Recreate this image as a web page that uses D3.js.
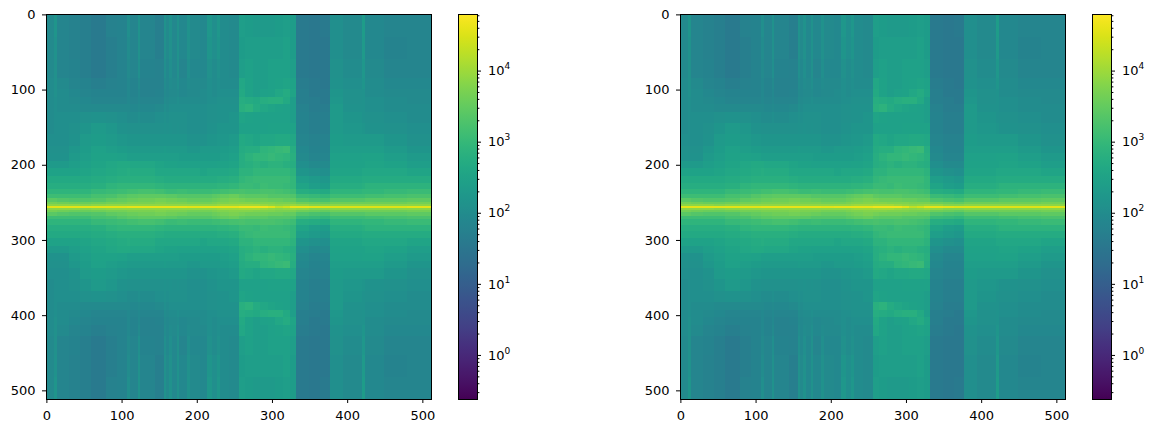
<!DOCTYPE html>
<html>
<head>
<meta charset="utf-8">
<script src="https://cdn.jsdelivr.net/npm/d3@7"></script>
<style>
  html, body { margin: 0; padding: 0; background: #fff; }
  svg text { font-family: "DejaVu Sans", sans-serif; font-size: 13px; fill: #000; }
</style>
</head>
<body>
<div id="chart"></div>
<script>
"use strict";

// image columns and rows where each band of the table starts
const colStarts = [0, 8, 10, 14, 30, 45, 60, 80, 95, 108, 112, 122, 125, 145, 157, 160, 163, 167, 174, 177, 187, 191, 205, 214, 221, 228, 231, 243, 256, 265, 275, 285, 295, 305, 315, 325, 333, 350, 365, 378, 395, 420, 424, 450, 480, 512];
const rowStarts = [0, 30, 60, 85, 100, 110, 120, 130, 145, 160, 175, 185, 195, 205, 215, 225, 233, 240, 245, 250, 253, 255, 258];

// log10 of the magnitude, upper half of the spectrum
const r000 = [1.95,1.95,2.2,1.85, 1.75,1.7,1.6,1.75,1.8, 2.05,1.85,2.15,1.85,1.7, 2.15,1.95,2.15,1.9,2.15,1.9,2.15,1.95, 1.9,2.25,2.05,2.25,2.0,1.95, 2.4,2.35,2.3,2.3,2.3,2.35,2.4,2.35, 1.6,1.55,1.6, 2.05,1.95,2.35,1.9,1.85,1.85];
const r030 = [1.95,1.95,2.15,1.85, 1.75,1.7,1.6,1.7,1.8, 2.0,1.85,2.1,1.85,1.7, 2.1,1.95,2.1,1.9,2.15,1.9,2.1,1.95, 1.9,2.2,2.05,2.2,2.0,1.95, 2.35,2.4,2.4,2.4,2.4,2.4,2.45,2.35, 1.6,1.55,1.55, 2.05,1.95,2.3,1.9,1.8,1.85];
const r060 = [1.95,1.95,2.1,1.85, 1.8,1.7,1.6,1.7,1.8, 1.95,1.85,2.05,1.8,1.75, 2.05,1.9,2.05,1.9,2.1,1.85,2.05,1.9, 1.9,2.1,2.0,2.1,2.0,1.95, 2.4,2.45,2.4,2.4,2.45,2.45,2.45,2.4, 1.6,1.55,1.55, 2.1,2.0,2.25,1.95,1.85,1.85];
const r085 = [2.0,2.0,2.1,1.95, 1.85,1.8,1.7,1.75,1.8, 1.9,1.8,1.95,1.75,1.75, 2.0,1.9,2.0,1.95,2.05,1.9,2.0,1.95, 1.95,2.05,2.0,2.05,2.0,2.0, 2.6,2.5,2.4,2.4,2.45,2.5,2.55,2.5, 1.65,1.6,1.55, 2.15,2.05,2.2,2.0,1.9,1.9];
const r100 = [2.0,2.0,2.1,2.0, 1.9,1.85,1.8,1.8,1.8, 1.9,1.8,1.9,1.75,1.8, 1.95,1.9,1.95,1.95,2.0,1.9,1.95,1.95, 2.0,2.05,2.0,2.05,2.05,2.05, 2.65,2.5,2.4,2.45,2.5,2.6,2.7,2.55, 1.7,1.6,1.6, 2.2,2.1,2.15,2.0,1.95,1.95];
const r110 = [2.0,2.0,2.05,2.0, 1.95,1.9,1.85,1.85,1.85, 1.9,1.85,1.9,1.85,1.85, 2.0,1.95,2.0,2.0,2.05,2.0,2.0,2.0, 2.0,2.05,2.05,2.1,2.1,2.1, 2.75,2.7,2.65,2.75,2.8,2.8,2.65,2.4, 1.7,1.65,1.6, 2.25,2.1,2.15,2.05,2.0,1.95];
const r120 = [2.0,2.0,2.05,2.0, 2.0,1.95,1.95,1.95,1.95, 1.95,1.9,1.95,1.9,1.95, 2.05,2.0,2.05,2.05,2.05,2.05,2.05,2.05, 2.05,2.1,2.1,2.15,2.15,2.15, 2.8,2.85,2.7,2.6,2.55,2.5,2.45,2.4, 1.75,1.65,1.65, 2.3,2.15,2.15,2.05,2.0,2.0];
const r130 = [2.0,2.0,2.05,2.05, 2.05,2.1,2.15,2.1,2.05, 2.0,2.0,2.05,2.0,2.05, 2.1,2.05,2.1,2.1,2.1,2.1,2.05,2.05, 2.05,2.1,2.1,2.15,2.15,2.2, 2.55,2.5,2.45,2.45,2.45,2.45,2.45,2.4, 1.8,1.7,1.7, 2.3,2.2,2.15,2.1,2.05,2.0];
const r145 = [2.0,2.0,2.05,2.05, 2.1,2.2,2.3,2.25,2.15, 2.1,2.1,2.1,2.1,2.1, 2.15,2.1,2.15,2.1,2.15,2.1,2.05,2.05, 2.05,2.15,2.15,2.2,2.2,2.2, 2.45,2.45,2.45,2.45,2.5,2.5,2.5,2.5, 1.8,1.7,1.7, 2.3,2.25,2.2,2.15,2.1,2.05];
const r160 = [2.05,2.05,2.05,2.05, 2.15,2.3,2.35,2.3,2.25, 2.2,2.2,2.2,2.2,2.2, 2.2,2.2,2.2,2.2,2.2,2.2,2.15,2.15, 2.15,2.2,2.2,2.25,2.25,2.3, 2.65,2.6,2.55,2.6,2.6,2.65,2.65,2.6, 1.85,1.75,1.75, 2.35,2.3,2.3,2.3,2.2,2.1];
const r175 = [2.1,2.1,2.1,2.1, 2.25,2.35,2.45,2.4,2.35, 2.3,2.3,2.3,2.3,2.3, 2.35,2.3,2.3,2.3,2.3,2.3,2.25,2.25, 2.3,2.3,2.3,2.3,2.35,2.4, 2.7,2.75,2.75,2.9,2.95,3.0,3.05,2.75, 1.9,1.8,1.8, 2.4,2.4,2.4,2.4,2.3,2.2];
const r185 = [2.15,2.15,2.15,2.15, 2.3,2.4,2.5,2.5,2.45, 2.4,2.4,2.4,2.4,2.4, 2.4,2.4,2.4,2.4,2.4,2.35,2.35,2.35, 2.35,2.35,2.35,2.35,2.4,2.45, 2.75,2.85,2.95,2.95,3.0,2.95,2.9,2.8, 1.95,1.85,1.85, 2.45,2.45,2.5,2.5,2.4,2.3];
const r195 = [2.3,2.3,2.3,2.3, 2.4,2.45,2.55,2.6,2.65, 2.65,2.6,2.6,2.6,2.55, 2.5,2.5,2.5,2.5,2.45,2.45,2.45,2.45, 2.45,2.45,2.45,2.5,2.5,2.55, 2.75,2.8,2.85,2.8,2.85,2.85,2.8,2.75, 2.05,1.95,1.95, 2.5,2.5,2.5,2.55,2.5,2.4];
const r205 = [2.5,2.5,2.5,2.5, 2.5,2.55,2.6,2.65,2.7, 2.75,2.7,2.7,2.7,2.6, 2.6,2.6,2.6,2.6,2.6,2.6,2.6,2.6, 2.55,2.6,2.6,2.6,2.6,2.65, 2.85,2.85,2.95,2.95,2.95,2.95,2.95,2.85, 2.2,2.1,2.05, 2.55,2.55,2.6,2.6,2.6,2.55];
const r215 = [2.65,2.65,2.65,2.65, 2.65,2.65,2.7,2.75,2.8, 2.8,2.8,2.8,2.8,2.75, 2.7,2.7,2.7,2.7,2.7,2.7,2.7,2.7, 2.7,2.7,2.7,2.75,2.75,2.8, 2.95,3.0,3.05,3.05,3.05,3.05,3.05,2.95, 2.4,2.3,2.25, 2.65,2.65,2.7,2.7,2.7,2.7];
const r225 = [2.75,2.75,2.75,2.75, 2.75,2.75,2.8,2.9,2.95, 2.95,2.95,2.95,2.95,2.9, 2.85,2.85,2.85,2.85,2.85,2.85,2.85,2.85, 2.85,2.85,2.85,2.9,2.9,2.95, 3.05,3.05,3.0,3.1,3.05,3.05,3.0,2.95, 2.55,2.4,2.35, 2.75,2.75,2.8,2.85,2.85,2.85];
const r233 = [2.9,2.9,2.9,2.9, 2.9,2.9,3.0,3.05,3.1, 3.15,3.15,3.2,3.2,3.15, 3.1,3.05,3.05,3.05,3.1,3.1,3.05,3.05, 3.05,3.05,3.1,3.1,3.15,3.2, 3.25,3.2,3.2,3.25,3.25,3.2,3.15,3.1, 2.75,2.7,2.65, 2.9,2.9,2.95,2.95,3.0,3.05];
const r240 = [3.1,3.1,3.1,3.1, 3.1,3.1,3.2,3.25,3.35, 3.4,3.4,3.45,3.45,3.45, 3.45,3.4,3.4,3.4,3.35,3.35,3.35,3.35, 3.35,3.35,3.4,3.45,3.5,3.55, 3.45,3.4,3.4,3.4,3.35,3.35,3.35,3.3, 3.05,3.0,2.95, 3.1,3.1,3.1,3.15,3.2,3.25];
const r245 = [3.4,3.4,3.4,3.35, 3.3,3.3,3.35,3.45,3.5, 3.55,3.55,3.6,3.6,3.65, 3.65,3.6,3.6,3.6,3.55,3.55,3.5,3.5, 3.5,3.5,3.55,3.6,3.65,3.7, 3.65,3.6,3.6,3.6,3.55,3.55,3.5,3.5, 3.3,3.25,3.2, 3.35,3.35,3.35,3.4,3.4,3.45];
const r250 = [3.65,3.65,3.65,3.6, 3.55,3.55,3.6,3.65,3.65, 3.7,3.7,3.7,3.7,3.75, 3.75,3.7,3.7,3.7,3.7,3.7,3.65,3.65, 3.65,3.65,3.7,3.75,3.75,3.8, 3.8,3.8,3.75,3.75,3.75,3.7,3.7,3.7, 3.6,3.55,3.5, 3.6,3.6,3.6,3.6,3.6,3.65];
const r253 = [3.85,3.85,3.85,3.85, 3.85,3.8,3.85,3.9,3.9, 3.9,3.9,3.9,3.9,3.9, 3.9,3.9,3.9,3.9,3.9,3.9,3.9,3.9, 3.9,3.9,3.9,3.95,4.0,4.0, 4.05,4.05,4.05,3.95,3.9,3.85,3.9,3.95, 3.9,3.8,3.8, 3.85,3.85,3.85,3.85,3.85,3.85];
const r255 = [4.55,4.55,4.55,4.55, 4.55,4.55,4.55,4.55,4.55, 4.6,4.6,4.6,4.6,4.6, 4.6,4.6,4.6,4.6,4.6,4.6,4.55,4.55, 4.6,4.6,4.6,4.6,4.6,4.6, 4.65,4.65,4.65,4.65,4.55,4.3,4.4,4.6, 4.6,4.55,4.5, 4.5,4.5,4.5,4.5,4.5,4.55];
const upperRows = [r000, r030, r060, r085, r100, r110, r120, r130, r145, r160, r175, r185, r195, r205, r215, r225, r233, r240, r245, r250, r253, r255];

const colorTicks = [1e0, 1e1, 1e2, 1e3, 1e4];
const colorMinorTicks = [0.3, 0.4, 0.5, 0.6, 0.7, 0.8, 0.9, 2, 3, 4, 5, 6, 7, 8, 9, 20, 30, 40, 50, 60, 70, 80, 90, 200, 300, 400, 500, 600, 700, 800, 900, 2000, 3000, 4000, 5000, 6000, 7000, 8000, 9000, 20000, 30000, 40000, 50000, 60000];
const axisTicks = [0, 100, 200, 300, 400, 500];
const colorDomain = [0.24, 62500];

const imageSize = 385;
const barWidth = 19;
const panelTop = 14;
const panels = [{ left: 46, barLeft: 458 }, { left: 680, barLeft: 1092 }];

const svg = d3.select("#chart").append("svg")
    .attr("width", 1156)
    .attr("height", 433)
    .style("display", "block");

const colorScale = d3.scaleSequentialLog(d3.interpolateViridis).domain(colorDomain);
const xScale = d3.scaleLinear().domain([-0.5, 511.5]).range([0, imageSize]);
const yScale = d3.scaleLinear().domain([-0.5, 511.5]).range([0, imageSize]);

// every table row is drawn twice, the lower half mirrors the upper one
const cells = [];
upperRows.forEach((row, i) => {
    row.forEach((value, j) => {
        const r0 = rowStarts[i], r1 = rowStarts[i + 1];
        const c0 = colStarts[j], c1 = colStarts[j + 1];
        cells.push({ c0, c1, r0, r1, value });
        if (r0 !== 255) cells.push({ c0, c1, r0: 513 - r1, r1: Math.min(513 - r0, 512), value });
    });
});

const gradient = svg.append("defs").append("linearGradient")
    .attr("id", "viridisBar")
    .attr("x1", 0).attr("x2", 0).attr("y1", 1).attr("y2", 0);
gradient.selectAll("stop")
    .data(d3.range(0, 1.0001, 0.02))
    .enter().append("stop")
    .attr("offset", d => d)
    .attr("stop-color", d => d3.interpolateViridis(d));

function drawPanel(panel) {
    const g = svg.append("g").attr("transform", `translate(${panel.left},${panelTop})`);

    g.append("g").selectAll("rect")
        .data(cells)
        .enter().append("rect")
        .attr("x", d => xScale(d.c0 - 0.5))
        .attr("y", d => yScale(d.r0 - 0.5))
        .attr("width", d => xScale(d.c1 - 0.5) - xScale(d.c0 - 0.5))
        .attr("height", d => yScale(d.r1 - 0.5) - yScale(d.r0 - 0.5))
        .attr("fill", d => colorScale(Math.pow(10, d.value)))
        .attr("shape-rendering", "crispEdges");

    g.append("g")
        .attr("transform", `translate(0,${imageSize})`)
        .call(d3.axisBottom(xScale).tickValues(axisTicks).tickSize(4).tickPadding(8).tickFormat(d3.format("d")));
    g.append("g")
        .call(d3.axisLeft(yScale).tickValues(axisTicks).tickSize(4).tickPadding(6.5).tickFormat(d3.format("d")));
    g.selectAll(".domain").remove();

    g.append("rect")
        .attr("x", 0.5).attr("y", 0.5)
        .attr("width", imageSize).attr("height", imageSize)
        .attr("fill", "none").attr("stroke", "#000");

    drawColorbar(panel);
}

function drawColorbar(panel) {
    const barScale = d3.scaleLog().domain(colorDomain).range([imageSize, 0]);
    const bar = svg.append("g").attr("transform", `translate(${panel.barLeft},${panelTop})`);

    bar.append("rect")
        .attr("width", barWidth).attr("height", imageSize)
        .attr("fill", "url(#viridisBar)");

    const major = bar.append("g")
        .attr("transform", `translate(${barWidth},0)`)
        .call(d3.axisRight(barScale).tickValues(colorTicks).tickSize(4).tickPadding(7).tickFormat(""));
    major.selectAll(".tick text").each(function (d) {
        const label = d3.select(this);
        label.append("tspan").text("10");
        label.append("tspan")
            .attr("dy", -6)
            .style("font-size", "9px")
            .text(Math.round(Math.log10(d)));
    });

    bar.append("g")
        .attr("transform", `translate(${barWidth},0)`)
        .call(d3.axisRight(barScale).tickValues(colorMinorTicks).tickSize(2.4).tickFormat(""));

    bar.selectAll(".domain").remove();

    bar.append("rect")
        .attr("x", 0.5).attr("y", 0.5)
        .attr("width", barWidth).attr("height", imageSize)
        .attr("fill", "none").attr("stroke", "#000");
}

panels.forEach(drawPanel);
</script>
</body>
</html>
